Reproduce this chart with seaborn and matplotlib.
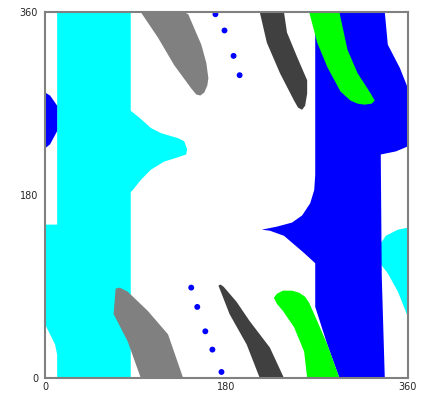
import numpy as np
import pandas as pd
import seaborn as sns
import matplotlib.pyplot as plt

# region outlines (data coords, degrees)
cyan_x = [12, 12, 10, 5, 0, 0, 12, 12, 85, 85, 95, 105, 115, 132, 138, 141, 140, 128, 118, 105, 95, 87, 85, 85]
cyan_y = [0, 23, 33, 43, 53, 151, 151, 360, 360, 263, 255, 246, 241, 236, 233, 225, 220, 216, 213, 205, 195, 185, 183, 0]

cyan2_x = [360, 350, 338, 332, 330, 333, 340, 350, 360]
cyan2_y = [148, 146, 140, 131, 120, 112, 103, 85, 60]

blue_x = [268, 337, 340, 352, 360, 360, 348, 333, 334, 337, 292, 280, 268, 268, 257, 237, 223, 215, 230, 245, 255, 263, 267, 268]
blue_y = [360, 360, 328, 305, 285, 228, 223, 220, 100, 0, 0, 33, 70, 113, 123, 140, 145, 146, 149, 153, 160, 172, 185, 200]

blue_left_x = [0, 5, 12, 12, 5, 0]
blue_left_y = [281, 278, 268, 243, 230, 226]

green_top_x = [262, 270, 280, 293, 303, 310, 317, 324, 327, 323, 310, 300, 292]
green_top_y = [360, 330, 306, 282, 273, 270, 269, 270, 273, 280, 300, 323, 360]

green_bot_x = [260, 257, 247, 236, 230, 227, 230, 236, 245, 252, 258, 262, 270, 280, 292]
green_bot_y = [0, 26, 50, 66, 73, 79, 83, 86, 86, 84, 80, 74, 56, 33, 0]

dark_top_x = [213, 220, 233, 247, 251, 255, 258, 260, 260, 250, 240, 237]
dark_top_y = [360, 330, 300, 273, 266, 264, 268, 280, 293, 316, 340, 360]

dark_bot_x = [213, 200, 183, 172, 174, 177, 190, 203, 223, 237]
dark_bot_y = [0, 33, 63, 91, 92, 90, 75, 56, 30, 0]

light_top_x = [95, 112, 128, 145, 150, 154, 158, 161, 162, 160, 155, 142, 138]
light_top_y = [360, 335, 308, 285, 279, 278, 281, 288, 295, 310, 328, 358, 360]

light_bot_x = [70, 74, 82, 102, 122, 137, 95, 82, 68]
light_bot_y = [88, 89, 85, 66, 43, 0, 0, 36, 63]

dots_x = [169, 178, 187, 193, 145, 151, 159, 166, 175]
dots_y = [358, 342, 317, 298, 89, 70, 46, 28, 6]

ticks = [0, 180, 360]

sns.set_style("white")
fig = plt.figure(figsize=(4.29, 3.93), dpi=100)
ax = fig.add_axes([0.105, 0.038, 0.846, 0.931])

regions = [
    (cyan_x, cyan_y, "#00FFFF"),
    (cyan2_x, cyan2_y, "#00FFFF"),
    (blue_x, blue_y, "#0000FF"),
    (blue_left_x, blue_left_y, "#0000FF"),
    (green_top_x, green_top_y, "#00FF00"),
    (green_bot_x, green_bot_y, "#00FF00"),
    (dark_top_x, dark_top_y, "#404040"),
    (dark_bot_x, dark_bot_y, "#404040"),
    (light_top_x, light_top_y, "#808080"),
    (light_bot_x, light_bot_y, "#808080"),
]
for xs, ys, c in regions:
    ax.fill(xs, ys, color=c, lw=0)

dots = pd.DataFrame({"x": dots_x, "y": dots_y})
sns.scatterplot(data=dots, x="x", y="y", color="#0000FF", s=18, edgecolor="none", ax=ax)

ax.set_xlim(0, 360)
ax.set_ylim(0, 360)
ax.set_xticks(ticks)
ax.set_yticks(ticks)
ax.set_xticklabels([str(t) for t in ticks], fontsize=7)
ax.set_yticklabels([str(t) for t in ticks], fontsize=7)
ax.set_xlabel("")
ax.set_ylabel("")
ax.tick_params(axis="x", length=3, width=1, color="#808080", pad=0)
ax.tick_params(axis="y", length=4, width=1, color="#808080", pad=1)
for s in ax.spines.values():
    s.set_color("#808080")
    s.set_linewidth(1.5)

fig.savefig("out.png", dpi=100)
